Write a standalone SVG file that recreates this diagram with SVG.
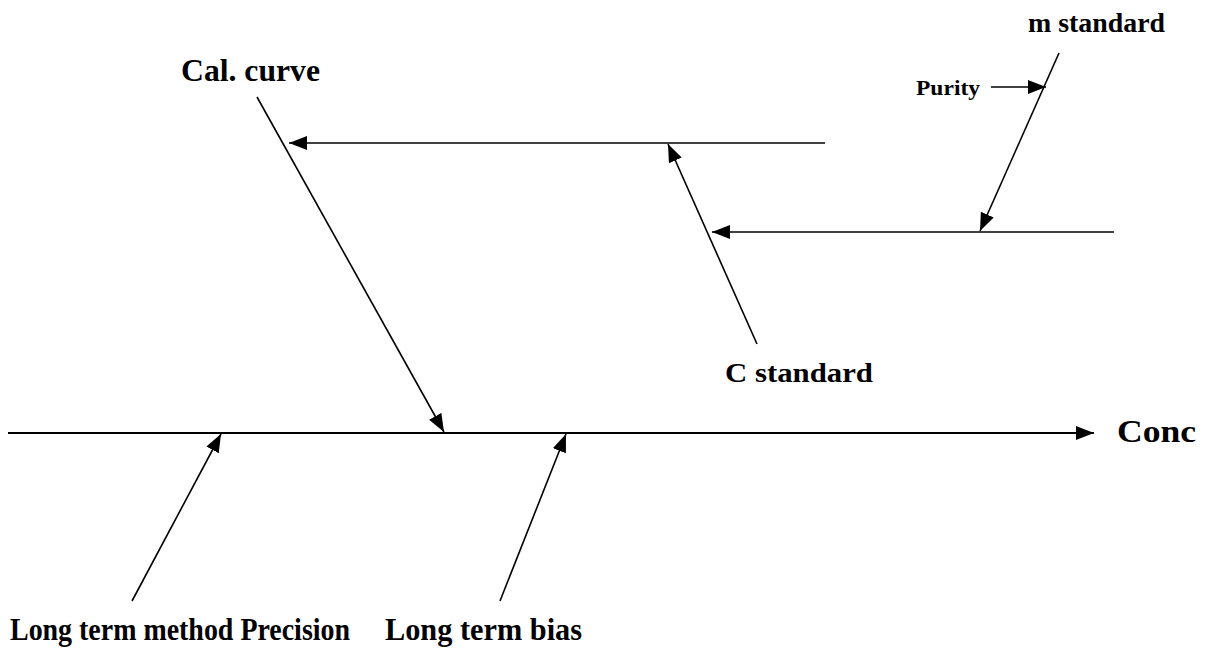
<svg xmlns="http://www.w3.org/2000/svg" width="1206" height="648" viewBox="0 0 1206 648">
<style>
text{font-family:"Liberation Serif","Times New Roman",serif;font-weight:bold;fill:#000}
.big{font-size:32px}
.mid{font-size:28px}
.sm{font-size:21px}
.ln{stroke:#000;stroke-width:1.6;fill:none;marker-end:url(#ah)}
</style>
<defs>
<marker id="ah" markerUnits="userSpaceOnUse" markerWidth="20" markerHeight="16" refX="18" refY="7" orient="auto">
<path d="M0,0 L18,7 L0,14 z" fill="#000"/>
</marker>
</defs>
<rect width="1206" height="648" fill="#fff"/>
<g id="connectors">
<line class="ln" x1="8" y1="433" x2="1094" y2="433" style="stroke-width:2"/>
<line class="ln" x1="257" y1="97" x2="444" y2="432"/>
<line class="ln" x1="825" y1="143" x2="289" y2="143"/>
<line class="ln" x1="757" y1="344" x2="668" y2="144"/>
<line class="ln" x1="1114" y1="232" x2="712" y2="232"/>
<line class="ln" x1="1059" y1="53" x2="980" y2="231"/>
<line class="ln" x1="991" y1="87" x2="1046" y2="87"/>
<line class="ln" x1="132" y1="601" x2="221" y2="434"/>
<line class="ln" x1="500" y1="601" x2="566" y2="434"/>
</g>
<g id="conc"><text class="big" x="1117" y="442" textLength="79" lengthAdjust="spacingAndGlyphs">Conc</text></g>
<g id="cal-curve"><text class="big" x="181" y="81" textLength="139" lengthAdjust="spacingAndGlyphs">Cal. curve</text></g>
<g id="c-standard"><text class="mid" x="725" y="382" textLength="148" lengthAdjust="spacingAndGlyphs">C standard</text></g>
<g id="m-standard"><text class="mid" x="1028" y="32" textLength="137" lengthAdjust="spacingAndGlyphs">m standard</text></g>
<g id="purity"><text class="sm" x="916" y="95" textLength="64" lengthAdjust="spacingAndGlyphs">Purity</text></g>
<g id="long-term-precision"><text class="big" x="10" y="640" textLength="340" lengthAdjust="spacingAndGlyphs">Long term method Precision</text></g>
<g id="long-term-bias"><text class="big" x="385" y="640" textLength="197" lengthAdjust="spacingAndGlyphs">Long term bias</text></g>
</svg>
